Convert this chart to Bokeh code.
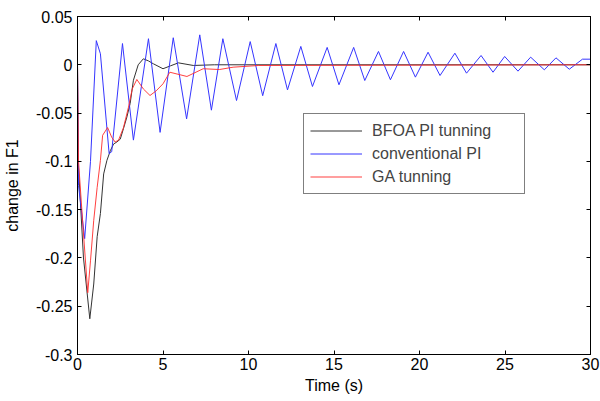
from bokeh.plotting import figure
from bokeh.models import Range1d, FixedTicker, LinearAxis, Legend, LegendItem
from bokeh.embed import file_html
from bokeh.resources import INLINE

# ---- data ----
t_bfoa = [0, 0.04, 0.35, 0.72, 0.95, 1.15, 1.34, 1.53, 1.72, 1.92, 2.11, 2.3, 2.5,
          2.69, 2.89, 3.08, 3.27, 3.55, 3.85, 4.15, 4.44, 5.0, 5.45, 5.9, 6.77, 8.0, 30]
y_bfoa = [0, -0.1, -0.2, -0.263, -0.227, -0.178, -0.154, -0.113, -0.099, -0.089, -0.082, -0.080, -0.077,
          -0.066, -0.054, -0.040, -0.016, 0.0, 0.0062, 0.004, 0.001, -0.0041, -0.001, 0.002, -0.0007, 0.0, 0.0]

t_conv = [0, 0.06, 0.42, 0.76, 1.1, 1.34, 1.85, 2.0, 2.63, 3.27, 4.15, 4.83, 5.6, 6.38, 7.15, 7.83,
          8.5, 9.3, 10.1, 10.83, 11.6, 12.28, 13.06, 13.74, 14.6, 15.29, 16.15, 16.8, 17.6, 18.3,
          19.07, 19.76, 20.5, 21.2, 22.07, 22.75, 23.6, 24.3, 24.98, 25.76, 26.5, 27.3, 27.98,
          28.76, 29.53, 30]
y_conv = [0, -0.125, -0.18, -0.10, 0.025, 0.0114, -0.092, -0.09, 0.022, -0.078, 0.027, -0.07, 0.028,
          -0.056, 0.031, -0.047, 0.027, -0.037, 0.024, -0.032, 0.022, -0.026, 0.019, -0.0225, 0.018,
          -0.0207, 0.018, -0.0163, 0.0138, -0.0155, 0.0138, -0.0128, 0.013, -0.0111, 0.012, -0.0087,
          0.0096, -0.0077, 0.0086, -0.0066, 0.0079, -0.0052, 0.0072, -0.0046, 0.0058, 0.0058]

t_ga = [0, 0.06, 0.33, 0.6, 0.76, 0.95, 1.15, 1.34, 1.47, 1.76, 2.0, 2.2, 2.4, 2.69, 2.98, 3.2,
        3.47, 3.85, 4.24, 4.6, 5.0, 5.4, 6.4, 7.35, 8.3, 9.1, 10.6, 30]
y_ga = [0, -0.1, -0.17, -0.236, -0.203, -0.161, -0.127, -0.099, -0.073, -0.065, -0.075, -0.080,
        -0.078, -0.065, -0.044, -0.025, -0.0152, -0.025, -0.0318, -0.027, -0.0197, -0.0077, -0.0121,
        -0.0041, -0.0049, -0.0025, -0.0007, 0.0]

x_ticks = [0, 5, 10, 15, 20, 25, 30]
y_ticks = [0.05, 0, -0.05, -0.1, -0.15, -0.2, -0.25, -0.3]
y_tick_labels = ["0.05", "0", "-0.05", "-0.1", "-0.15", "-0.2", "-0.25", "-0.3"]

series_names = ["BFOA PI tunning", "conventional PI", "GA tunning"]
series_colors = ["#333333", "#3535ff", "#ff2b2b"]

FONT = "Liberation Sans"
FS = "16px"

p = figure(width=600, height=401, output_backend="svg", toolbar_location=None,
           x_range=Range1d(0, 30), y_range=Range1d(-0.3, 0.05),
           min_border_left=77, min_border_right=10, min_border_top=16, min_border_bottom=47)
p.grid.visible = False
p.outline_line_color = "black"
p.outline_line_width = 1
p.background_fill_color = "white"

r1 = p.line(t_bfoa, y_bfoa, line_color=series_colors[0], line_width=1)
r2 = p.line(t_conv, y_conv, line_color=series_colors[1], line_width=1)
r3 = p.line(t_ga, y_ga, line_color=series_colors[2], line_width=1, line_alpha=0.9)

def style_axis(ax):
    ax.major_tick_in = 4
    ax.major_tick_out = 0
    ax.minor_tick_line_color = None
    ax.axis_line_color = "black"
    ax.major_tick_line_color = "black"
    ax.major_label_text_font = FONT
    ax.major_label_text_font_size = FS
    ax.major_label_text_color = "black"
    ax.axis_label_text_font = FONT
    ax.axis_label_text_font_size = FS
    ax.axis_label_text_font_style = "normal"
    ax.axis_label_text_color = "black"

xa = p.xaxis[0]
ya = p.yaxis[0]
style_axis(xa)
style_axis(ya)
xa.ticker = FixedTicker(ticks=x_ticks)
ya.ticker = FixedTicker(ticks=y_ticks)
ya.major_label_overrides = {v: s for v, s in zip(y_ticks, y_tick_labels)}
xa.axis_label = "Time (s)"
ya.axis_label = "change in F1"
xa.major_label_standoff = 3
ya.major_label_standoff = 5
xa.axis_label_standoff = 4
ya.axis_label_standoff = 12

top = LinearAxis(ticker=FixedTicker(ticks=x_ticks))
right = LinearAxis(ticker=FixedTicker(ticks=y_ticks))
for ax in (top, right):
    style_axis(ax)
    ax.major_label_text_font_size = "1px"
    ax.major_label_text_color = None
    ax.major_label_standoff = 0
p.add_layout(top, "above")
p.add_layout(right, "right")

legend = Legend(items=[LegendItem(label=series_names[0], renderers=[r1]),
                       LegendItem(label=series_names[1], renderers=[r2]),
                       LegendItem(label=series_names[2], renderers=[r3])],
                location=(226, 160))
legend.border_line_color = "black"
legend.border_line_width = 1
legend.background_fill_color = "white"
legend.background_fill_alpha = 1
legend.label_text_font = FONT
legend.label_text_font_size = FS
legend.padding = 6
legend.spacing = 2
legend.label_height = 21
legend.glyph_height = 21
legend.glyph_width = 52
legend.label_standoff = 10
legend.label_width = 146
legend.margin = 0
p.add_layout(legend, "center")

open("out.html", "w").write(file_html(p, INLINE))
